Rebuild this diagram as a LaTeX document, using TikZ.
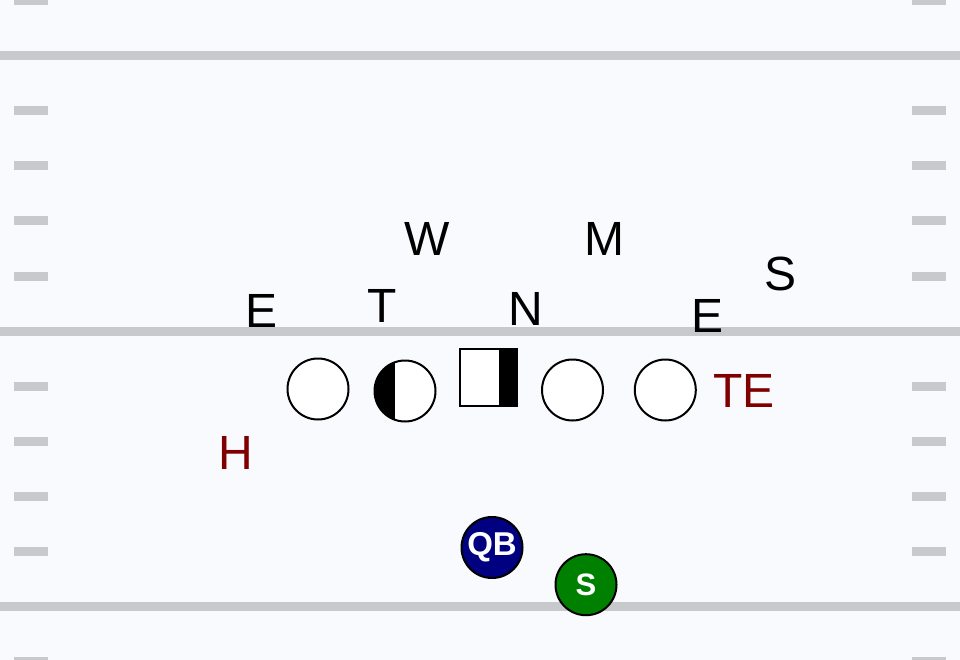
\documentclass[tikz,border=0pt]{standalone}
\usepackage{fontspec}
\setmainfont{Liberation Sans}
\definecolor{bg}{HTML}{F8FAFE}
\definecolor{fieldline}{HTML}{C8C9CD}
\definecolor{offred}{RGB}{128,0,0}
\definecolor{qbblue}{HTML}{000080}
\definecolor{sgreen}{HTML}{008000}
\begin{document}
\begin{tikzpicture}[x=1pt,y=-1pt,
  defl/.style={inner sep=0pt, font=\fontsize{48}{48}\selectfont, text=black},
  offl/.style={inner sep=0pt, font=\fontsize{48}{48}\selectfont, text=offred},
  lineman/.style={circle, draw=black, line width=2pt, fill=white, minimum size=61pt, inner sep=0pt},
  centerbox/.style={rectangle, draw=black, line width=2pt, fill=white, minimum size=56.5pt, inner sep=0pt},
  back/.style={circle, draw=black, line width=2pt, minimum size=61pt, inner sep=0pt, text=white},
  yardline/.style={draw=fieldline, line width=9pt},
  hash/.style={fill=fieldline}
]
\fill[bg] (0,0) rectangle (960,660);
\useasboundingbox (0,0) rectangle (960,660);
% yard lines
\foreach \y in {56,331,606} {
  \draw[yardline] (0,\y) -- (960,\y);
}
% hash marks
\foreach \y in {1,111,166,221,276,386,441,496,551,661} {
  \fill[hash] (14,\y-4.5) rectangle (48,\y+4.5);
  \fill[hash] (912,\y-4.5) rectangle (946,\y+4.5);
}
% offensive line
\node[lineman] (lt) at (318,389) {};
\node[lineman, path picture={\fill[black] ([xshift=-10pt]path picture bounding box.south) rectangle (path picture bounding box.north west);}] (lg) at (405,391) {};
\node[centerbox, path picture={\fill[black] ([xshift=10pt]path picture bounding box.south) rectangle (path picture bounding box.north east);}] (c) at (488.5,377.5) {};
\node[lineman] (rg) at (572.5,390) {};
\node[lineman] (rt) at (665.3,390) {};
% backs
\node[back, fill=qbblue, font=\bfseries\fontsize{33}{33}\selectfont] (qb) at (492,547.5) {QB};
\node[back, fill=sgreen, font=\bfseries\fontsize{31}{31}\selectfont] (sb) at (586,584.7) {S};
% offensive labels
\node[offl] (te) at (744,390.5) {TE};
\node[offl] (h) at (236,453) {H};
% defense
\node[defl] (el) at (262,310.5) {E};
\node[defl] (t) at (382,306) {T};
\node[defl] (n) at (526,308.5) {N};
\node[defl] (er) at (707,315.5) {E};
\node[defl] (w) at (427,239) {W};
\node[defl] (m) at (604,238.5) {M};
\node[defl] (s) at (780,273.5) {S};
\end{tikzpicture}
\end{document}
